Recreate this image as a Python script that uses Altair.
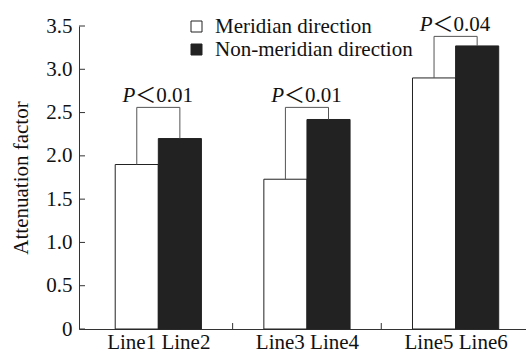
import altair as alt
import pandas as pd

groups = ["Line1 Line2", "Line3 Line4", "Line5 Line6"]
series = ["Meridian direction", "Non-meridian direction"]
meridian = [1.90, 1.73, 2.90]
non_meridian = [2.20, 2.42, 3.27]
bracket_top = [2.56, 2.56, 3.38]
p_text = ["\uff1c0.01", "\uff1c0.01", "\uff1c0.04"]
y_ticks = [0, 0.5, 1.0, 1.5, 2.0, 2.5, 3.0, 3.5]
x_sep_ticks = [1, 2]

BAR = 0.29
FONT = "Liberation Serif"

rows = []
for i, g in enumerate(groups):
    c = i + 0.5
    for j, (s, vals) in enumerate(zip(series, [meridian, non_meridian])):
        x0 = c - BAR + j * BAR
        rows.append({"group": g, "series": s, "x0": x0, "x1": x0 + BAR, "v": vals[i]})
bars_df = pd.DataFrame(rows)

br_rows = []
for i, g in enumerate(groups):
    c = i + 0.5
    br_rows.append({"group": g, "xl": c - BAR / 2, "xr": c + BAR / 2, "xc": c,
                    "yl": meridian[i], "yr": non_meridian[i], "top": bracket_top[i],
                    "p": p_text[i]})
br_df = pd.DataFrame(br_rows)

label_arr = "[" + ",".join("'" + g + "'" for g in groups) + "]"

xscale = alt.Scale(domain=[0, 2.94], nice=False, zero=False)
yscale = alt.Scale(domain=[0, 3.5], nice=False)

bars = alt.Chart(bars_df).mark_bar(stroke="#222", strokeWidth=1, orient="vertical").encode(
    x=alt.X("x0:Q", scale=xscale, axis=alt.Axis(
        values=[0.5, 1.5, 2.5], labelExpr=label_arr + "[floor(datum.value)]",
        ticks=False, grid=False, domainColor="#333", labelFont=FONT, labelFontSize=21,
        labelColor="#111", labelPadding=2, title=None, labelBaseline="top")),
    x2="x1:Q",
    y=alt.Y("v:Q", scale=yscale, axis=alt.Axis(
        values=y_ticks, labelExpr="datum.value == 0 ? '0' : format(datum.value, '.1f')",
        ticks=False, grid=False, domainColor="#333", labelFont=FONT, labelFontSize=21,
        labelColor="#111", labelPadding=7, title="Attenuation factor", titleFont=FONT,
        titleFontSize=21, titleFontWeight="normal", titleColor="#111", titlePadding=14)),
    y2=alt.datum(0),
    color=alt.Color("series:N", scale=alt.Scale(domain=series, range=["white", "#222"]),
                    legend=alt.Legend(orient="none", legendX=107, legendY=-10, title=None,
                                      symbolType="square", symbolSize=121,
                                      symbolStrokeColor="#222", symbolStrokeWidth=1,
                                      labelFont=FONT, labelFontSize=21, labelColor="#111",
                                      labelOffset=8, rowPadding=1, labelLimit=400)),
)

ytick_df = pd.DataFrame({"t": y_ticks})
yticks = alt.Chart(ytick_df).mark_rule(color="#333", strokeWidth=1).encode(
    y=alt.Y("t:Q", scale=yscale), x=alt.value(0), x2=alt.value(6))

xtick_df = pd.DataFrame({"t": x_sep_ticks})
xticks = alt.Chart(xtick_df).mark_rule(color="#333", strokeWidth=1).encode(
    x=alt.X("t:Q", scale=xscale), y=alt.value(303), y2=alt.value(297))

rule_style = dict(color="#555", strokeWidth=1)
left_leg = alt.Chart(br_df).mark_rule(**rule_style).encode(
    x=alt.X("xl:Q", scale=xscale),
    y=alt.Y("yl:Q", scale=yscale), y2="top:Q")
right_leg = alt.Chart(br_df).mark_rule(**rule_style).encode(
    x=alt.X("xr:Q", scale=xscale),
    y=alt.Y("yr:Q", scale=yscale), y2="top:Q")
top_bar = alt.Chart(br_df).mark_rule(**rule_style).encode(
    x=alt.X("xl:Q", scale=xscale), x2="xr:Q",
    y=alt.Y("top:Q", scale=yscale))

p_italic = alt.Chart(br_df).transform_calculate(pp="'P'").mark_text(
    font=FONT, fontSize=21, fontStyle="italic", align="right", baseline="alphabetic",
    dx=-23, dy=-5, color="#111").encode(
    x=alt.X("xc:Q", scale=xscale),
    y=alt.Y("top:Q", scale=yscale), text="pp:N")
p_rest = alt.Chart(br_df).mark_text(
    font=FONT + ", Noto Sans CJK SC", fontSize=21, align="left", baseline="alphabetic",
    dx=-23, dy=-5, color="#111").encode(
    x=alt.X("xc:Q", scale=xscale),
    y=alt.Y("top:Q", scale=yscale), text="p:N")

chart = alt.layer(bars, yticks, xticks, left_leg, right_leg, top_bar, p_italic, p_rest).properties(
    width=447, height=303,
    autosize=alt.AutoSizeParams(type="none"),
    padding={"left": 79, "top": 26, "right": 0, "bottom": 23},
    background="white",
).configure_view(stroke=None)

chart.save("out.html", embed_options={"renderer": "svg", "actions": False})
